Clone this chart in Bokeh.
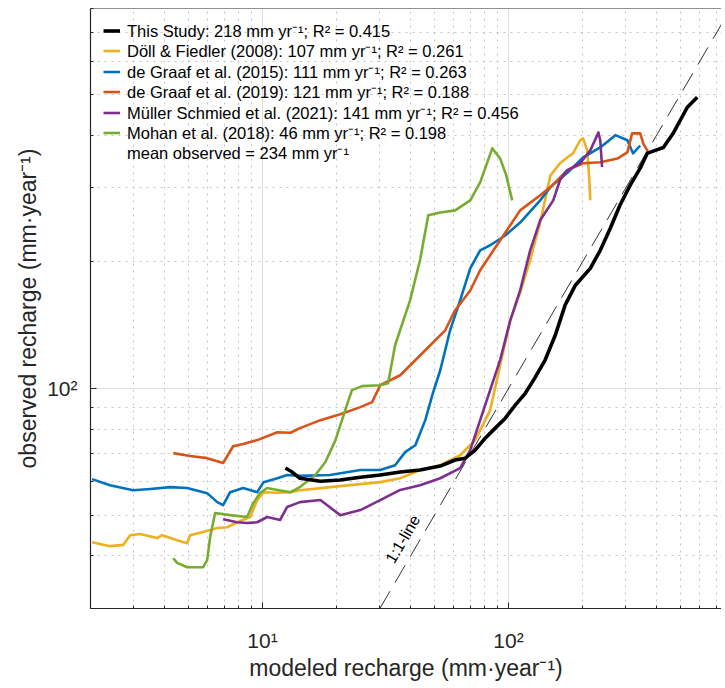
from bokeh.plotting import figure
from bokeh.models import FixedTicker, Legend, LegendItem, Label, Span
from bokeh.embed import file_html
from bokeh.resources import INLINE

# ---------------- data ----------------
black_x = [12.4, 13.2, 14.2, 17.2, 20.7, 25.0, 30.1, 36.3, 43.7, 52.8, 60.7, 66.7, 73.2, 80.4, 88.3, 97.0,
           106.5, 117, 128, 141, 155, 170, 187, 215, 236, 259, 284, 312, 343, 366, 395, 426, 467, 499, 533, 585]
black_y = [64.7, 63.3, 61.2, 60.2, 60.6, 61.5, 62.3, 63.3, 64.0, 65.4, 67.6, 68.3, 71.4, 76.2, 80.5, 85.0,
           91.3, 97.4, 106, 117, 134, 158, 176, 193, 213, 240, 273, 304, 334, 362, 368, 374, 404, 434, 466, 492]

yellow_x = [2.03, 2.40, 2.72, 2.90, 3.18, 3.73, 3.91, 4.50, 4.94, 5.08, 5.74, 6.55, 7.19, 7.89, 8.91, 9.52,
            10.1, 11.5, 13.0, 14.2, 20.7, 30.1, 36.3, 43.7, 52.8, 63.6, 73.2, 84.2, 92.5, 101.6, 111.5,
            122.5, 134.5, 148, 162, 173, 183, 195.5, 201, 209, 213, 215]
yellow_y = [43.1, 42.2, 42.5, 44.8, 45.1, 44.1, 44.8, 43.6, 42.9, 44.8, 45.6, 46.6, 46.8, 48.1, 49.5, 54.3,
            56.7, 56.5, 56.7, 57.3, 58.6, 59.9, 61.2, 64.0, 65.7, 69.4, 75.4, 88.8, 113.6, 145, 169,
            202, 248, 321, 343, 354, 362, 389, 393, 368, 313, 280]

blue_x = [2.03, 2.40, 2.98, 3.50, 4.22, 4.94, 5.96, 6.55, 6.92, 7.39, 8.35, 9.52, 10.1, 11.5, 12.6, 14.2,
          18.8, 25.0, 30.1, 34.6, 38.0, 41.8, 45.9, 49.0, 52.8, 57.9, 63.6, 69.9, 76.7, 84.2, 97.0, 111.5,
          134.5, 148, 173, 201, 236, 272, 304, 321, 343]
blue_y = [60.9, 58.9, 57.3, 57.7, 58.3, 58.0, 56.4, 53.7, 52.8, 56.7, 58.0, 56.7, 59.9, 61.2, 62.3, 62.0,
          62.3, 64.0, 64.0, 65.7, 70.6, 73.3, 84.1, 96.4, 110.5, 137.5, 162, 193, 213, 219, 231, 248,
          280, 301, 325, 354, 374, 400, 389, 362, 378]

orange_x = [4.34, 5.08, 5.96, 6.92, 7.60, 8.35, 9.52, 11.5, 13.0, 14.2, 17.2, 20.7, 25.0, 27.9, 30.1, 36.3,
            48.1, 55.3, 60.7, 69.9, 76.7, 92.5, 111.5, 134.5, 148, 173, 201, 236, 277, 304, 318, 343, 353, 370]
orange_y = [70.2, 69.1, 68.3, 66.5, 72.9, 73.8, 75.4, 78.7, 78.5, 80.5, 84.1, 86.9, 90.3, 92.8, 101.8, 107.5,
            126.7, 137.5, 153.5, 171, 191, 225, 265, 288, 301, 330, 343, 345, 352, 364, 404, 404, 382, 364]

purple_x = [6.92, 7.89, 8.66, 9.52, 10.45, 11.8, 12.6, 14.2, 17.2, 20.7, 25.0, 30.1, 36.3, 43.7, 52.8, 63.6,
            69.9, 76.7, 84.2, 92.5, 101.6, 111.5, 122.5, 134.5, 152, 162, 173, 195.5, 215, 232, 236, 240]
purple_y = [48.9, 48.1, 47.9, 48.1, 49.5, 48.7, 52.3, 53.7, 54.3, 50.0, 51.4, 54.3, 57.4, 58.9, 61.2, 64.7,
            71.4, 84.1, 99.1, 117, 145, 171, 213, 251, 280, 313, 330, 343, 368, 406, 389, 336]

green_x = [4.34, 4.50, 4.94, 5.74, 5.96, 6.13, 6.42, 7.39, 8.66, 9.17, 9.79, 10.45, 11.5, 13.0, 14.2, 16.4,
           18.0, 19.8, 21.7, 23.1, 25.4, 30.1, 32.4, 34.6, 39.8, 43.7, 47.2, 52.8, 60.7, 69.9, 76.7, 85.9,
           92.5, 97.9, 103.5]
green_y = [39.5, 38.5, 37.6, 37.6, 39.1, 44.4, 50.6, 50.0, 49.5, 53.4, 56.5, 58.0, 57.4, 56.7, 58.3, 62.3,
           66.8, 75.4, 88.8, 99.1, 101.3, 101.8, 102.9, 126.7, 162, 202, 258, 262, 265, 280, 309, 372,
           352, 321, 280]

one_to_one = [1, 1000]

labels = [
    "This Study: 218 mm yr\u207b\u00b9; R\u00b2 = 0.415",
    "D\u00f6ll & Fiedler (2008): 107 mm yr\u207b\u00b9; R\u00b2 = 0.261",
    "de Graaf et al. (2015): 111 mm yr\u207b\u00b9; R\u00b2 = 0.263",
    "de Graaf et al. (2019): 121 mm yr\u207b\u00b9; R\u00b2 = 0.188",
    "M\u00fcller Schmied et al. (2021): 141 mm yr\u207b\u00b9; R\u00b2 = 0.456",
    "Mohan et al. (2018): 46 mm yr\u207b\u00b9; R\u00b2 = 0.198",
    "mean observed = 234 mm yr\u207b\u00b9",
]

x_major = [10, 100]
x_minor = [2, 3, 4, 5, 6, 7, 8, 9, 20, 30, 40, 50, 60, 70, 80, 90, 200, 300, 400, 500, 600, 700]
y_major = [100]
y_minor = [30, 40, 50, 60, 70, 80, 90, 200, 300, 400, 500, 600, 700, 800]
x_tick_labels = {10: "10\u00b9", 100: "10\u00b2"}
y_tick_labels = {100: "10\u00b2"}
x_lim = (2, 734)
y_lim = (30, 800)

FONT = "Liberation Sans"
TXT = "#262626"

p = figure(width=721, height=687, x_axis_type="log", y_axis_type="log",
           x_range=x_lim, y_range=y_lim,
           output_backend="svg", toolbar_location=None,
           min_border_left=90, min_border_right=0, min_border_top=8, min_border_bottom=79,
           background_fill_color="white", border_fill_color="white")
p.outline_line_color = None
p.add_layout(Span(location=y_lim[1], dimension="width", line_color=TXT, line_width=1.2))

xt = FixedTicker(ticks=x_major, minor_ticks=x_minor)
yt = FixedTicker(ticks=y_major, minor_ticks=y_minor)
p.xaxis.ticker = xt
p.yaxis.ticker = yt
p.xaxis.major_label_overrides = x_tick_labels
p.yaxis.major_label_overrides = y_tick_labels

for g in (p.xgrid, p.ygrid):
    g.grid_line_color = "#DEDEDE"
    g.grid_line_width = 1
    g.minor_grid_line_color = "#C4C4C4"
    g.minor_grid_line_dash = "2 5"
    g.minor_grid_line_width = 1

for ax in (p.xaxis[0], p.yaxis[0]):
    ax.axis_line_color = TXT
    ax.axis_line_width = 1.2
    ax.major_tick_in = 6
    ax.major_tick_out = 0
    ax.minor_tick_in = 3
    ax.minor_tick_out = 0
    ax.major_tick_line_color = TXT
    ax.minor_tick_line_color = TXT
    ax.major_label_text_font = FONT
    ax.major_label_text_font_size = "21px"
    ax.major_label_text_color = TXT
    ax.axis_label_text_font = FONT
    ax.axis_label_text_font_size = "23px"
    ax.axis_label_text_font_style = "normal"
    ax.axis_label_text_color = TXT

p.xaxis.axis_label = "modeled recharge (mm\u00b7year\u207b\u00b9)"
p.yaxis.axis_label = "observed recharge (mm\u00b7year\u207b\u00b9)"
p.xaxis.major_label_standoff = 20
p.xaxis.axis_label_standoff = 0
p.yaxis.major_label_standoff = 13
p.yaxis.axis_label_standoff = 3

# 1:1 line
p.line(one_to_one, one_to_one, line_color="#333333", line_width=1, line_dash="20 10")
p.add_layout(Label(x=42, y=42, x_offset=-13, y_offset=8, text="1:1-line", angle=1.042,
                   text_align="center", text_baseline="middle", text_font=FONT,
                   text_font_size="16px", text_color="black"))

lw = 2.6
r_yellow = p.line(yellow_x, yellow_y, line_color="#EDB120", line_width=lw, line_join="round")
r_blue = p.line(blue_x, blue_y, line_color="#0072BD", line_width=lw, line_join="round")
r_orange = p.line(orange_x, orange_y, line_color="#D95319", line_width=lw, line_join="round")
r_purple = p.line(purple_x, purple_y, line_color="#7E2F8E", line_width=lw, line_join="round")
r_green = p.line(green_x, green_y, line_color="#77AC30", line_width=lw, line_join="round")
r_black = p.line(black_x, black_y, line_color="black", line_width=3.6, line_join="round")
r_none = p.line(x=[1, 1], y=[1, 1], line_alpha=0)

renderers = [r_black, r_yellow, r_blue, r_orange, r_purple, r_green, r_none]
# one single-row legend per entry, so the row pitch can follow the reference
ROW_PITCH = 20.4
for i, (lab, rend) in enumerate(zip(labels, renderers)):
    lg = Legend(items=[LegendItem(label=lab, renderers=[rend])],
                location=(13, 566 - ROW_PITCH * i), margin=0, padding=0, spacing=0,
                label_height=17, glyph_height=17, glyph_width=17, label_standoff=7,
                label_text_font=FONT, label_text_font_size="16.5px", label_text_color="black",
                border_line_color=None, background_fill_alpha=0)
    p.add_layout(lg)

open("out.html", "w").write(file_html(p, INLINE))
